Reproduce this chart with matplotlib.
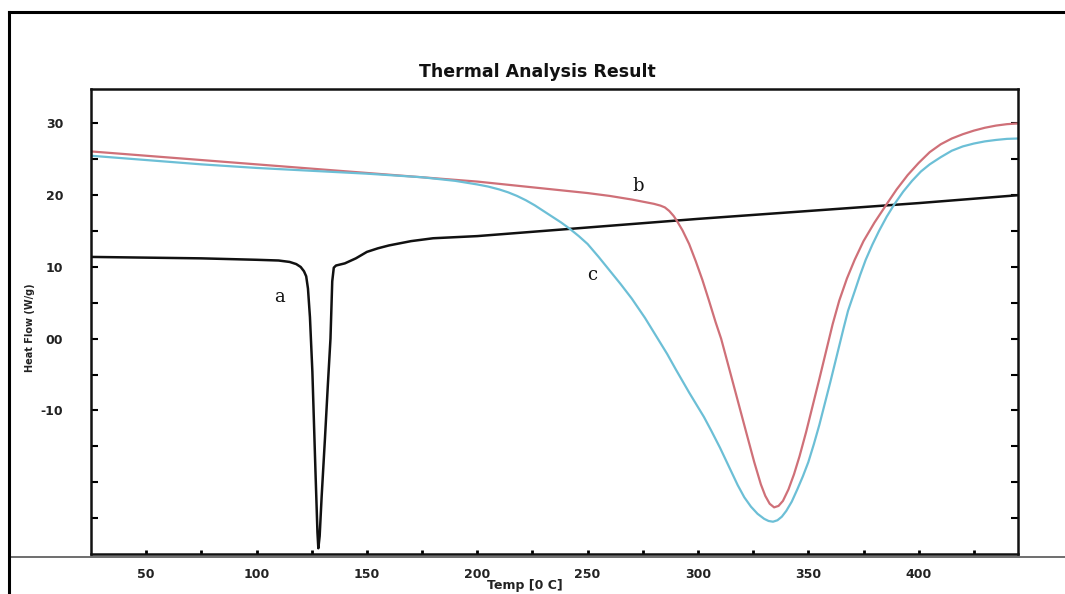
import matplotlib
matplotlib.use("Agg")
import matplotlib.pyplot as plt
from matplotlib.lines import Line2D

# ---- data ----
temp_a = [25, 50, 75, 100, 110, 115, 118, 120, 121.5, 122.5, 123.3, 124.2, 125.3, 126.7, 127.6,
          128, 128.6, 129.5, 131, 132.3, 133.5, 134.3, 135, 136, 140, 145, 150, 155, 160, 170,
          180, 200, 250, 300, 350, 400, 445]
flow_a = [11.4, 11.3, 11.2, 11.0, 10.9, 10.7, 10.4, 10.0, 9.4, 8.7, 7.0, 3.0, -4.6, -18.5, -27.0,
          -29.2, -27.5, -22.0, -13.9, -6.5, 0.0, 8.0, 9.9, 10.2, 10.5, 11.2, 12.1, 12.6, 13.0,
          13.6, 14.0, 14.3, 15.5, 16.7, 17.8, 18.9, 20.0]

temp_b = [25, 50, 75, 100, 125, 150, 175, 200, 225, 250, 260, 270, 275, 280, 283, 285, 287,
          289, 290.5, 293, 296, 299, 302, 305, 308, 310.5, 314, 318, 322, 325.5, 328.5, 330.5,
          332.5, 334.5, 336.5, 338.5, 341, 343.5, 346, 349, 352, 355, 358, 361, 364, 367.5,
          371, 375, 380, 385.5, 390, 395, 400, 405, 410, 415, 420, 425, 430, 435, 440, 445]
flow_b = [26.1, 25.5, 24.9, 24.3, 23.7, 23.1, 22.5, 21.9, 21.1, 20.3, 19.9, 19.4, 19.1, 18.8,
          18.55, 18.3, 17.8, 17.1, 16.4, 15.1, 13.2, 10.8, 8.2, 5.3, 2.3, 0.0, -4.0, -8.6, -13.2,
          -17.2, -20.3, -21.9, -23.0, -23.5, -23.3, -22.6, -21.0, -18.9, -16.4, -13.0, -9.3,
          -5.6, -1.8, 2.0, 5.3, 8.4, 11.0, 13.6, 16.2, 18.75, 20.8, 22.8, 24.5, 26.0, 27.1,
          27.9, 28.5, 29.0, 29.4, 29.7, 29.9, 30.0]

temp_c = [25, 50, 75, 100, 125, 150, 175, 190, 200, 205, 210, 214, 218, 222, 226, 230, 234,
          238, 242, 246, 250, 255, 260, 265, 270, 276, 281.8, 286, 290, 296, 302.7, 306, 310,
          314, 318, 321, 324, 327, 330, 332, 334, 336, 338, 340, 342.5, 345, 347.5, 350,
          352.5, 355, 357.5, 360, 362, 364, 366, 368, 371, 373.5, 376, 379, 382, 385.5, 389,
          393, 397, 401, 405, 410, 415, 420, 425, 430, 435, 440, 445]
flow_c = [25.5, 24.9, 24.3, 23.8, 23.4, 23.0, 22.5, 22.0, 21.5, 21.2, 20.8, 20.4, 19.9, 19.3,
          18.6, 17.8, 17.0, 16.2, 15.3, 14.3, 13.2, 11.4, 9.5, 7.6, 5.6, 2.9, 0.0, -2.1, -4.3,
          -7.5, -10.9, -12.8, -15.2, -17.8, -20.4, -22.1, -23.4, -24.4, -25.1, -25.4, -25.5,
          -25.3, -24.8, -24.0, -22.7, -21.0, -19.2, -17.2, -14.7, -12.0, -9.0, -6.0, -3.5,
          -1.0, 1.5, 3.9, 6.6, 8.9, 11.0, 13.1, 15.0, 17.0, 18.75, 20.5, 22.0, 23.3, 24.3,
          25.3, 26.2, 26.8, 27.2, 27.5, 27.7, 27.85, 27.9]

curve_labels = ["a", "b", "c"]
label_pos_t = [110.5, 272.7, 252.3]
label_pos_v = [5.8, 21.3, 8.9]

yticks_major = [-25, -20, -15, -10, -5, 0, 5, 10, 15, 20, 25, 30]
ytick_labels = {30: "30", 20: "20", 10: "10", 0: "00", -10: "-10"}
xticks_major = [50, 75, 100, 125, 150, 175, 200, 225, 250, 275, 300, 325, 350, 375, 400, 425]
xtick_labels = {50: "50", 100: "100", 150: "150", 200: "200", 250: "250",
                300: "300", 350: "350", 400: "400"}

# ---- figure ----
W, H = 1065, 594
fig = plt.figure(figsize=(W / 100, H / 100), dpi=100)
fig.patch.set_facecolor("white")

ax_l, ax_r, ax_t, ax_b = 91, 1018, 89, 554
ax = fig.add_axes([ax_l / W, 1 - ax_b / H, (ax_r - ax_l) / W, (ax_b - ax_t) / H])

ax.plot(temp_a, flow_a, color="#111111", lw=1.8, solid_joinstyle="round")
ax.plot(temp_b, flow_b, color="#cf7078", lw=1.6, solid_joinstyle="round")
ax.plot(temp_c, flow_c, color="#6cbfd6", lw=1.6, solid_joinstyle="round")

for lab, t, v in zip(curve_labels, label_pos_t, label_pos_v):
    ax.text(t, v, lab, family="DejaVu Serif", fontsize=13, ha="center", va="center",
            color="#111111")

ax.set_xlim(25, 445)
ax.set_ylim(-30, 34.8)

ax.set_yticks(yticks_major)
ax.set_yticklabels([ytick_labels.get(v, "") for v in yticks_major])
ax.set_xticks(xticks_major)
ax.set_xticklabels([xtick_labels.get(v, "") for v in xticks_major])

ax.tick_params(axis="y", direction="in", length=5, width=1.5, left=True, right=True,
               labelsize=9, pad=20)
ax.tick_params(axis="x", direction="in", length=3, width=2, bottom=True, top=False,
               labelsize=9, pad=10)
for lab in ax.get_xticklabels() + ax.get_yticklabels():
    lab.set_fontweight("bold")
    lab.set_color("#222222")

for s in ax.spines.values():
    s.set_linewidth(1.8)
    s.set_color("#111111")

fig.text(537 / W, 1 - 72 / H, "Thermal Analysis Result", ha="center", va="center",
         fontsize=12.5, fontweight="bold", color="#111111")
fig.text(525 / W, 1 - 585 / H, "Temp [0 C]", ha="center", va="center",
         fontsize=9, fontweight="bold", color="#222222")
fig.text(30 / W, 1 - 328 / H, "Heat Flow (W/g)", ha="center", va="center",
         rotation=90, fontsize=7, fontweight="bold", color="#222222")

# outer frame lines
fig.add_artist(Line2D([9 / W, 9 / W], [0, 1 - 12 / H], color="black", lw=2.2,
                      transform=fig.transFigure))
fig.add_artist(Line2D([9 / W, 1], [1 - 12 / H, 1 - 12 / H], color="black", lw=2.2,
                      transform=fig.transFigure))
fig.add_artist(Line2D([9 / W, 1], [1 - 557 / H, 1 - 557 / H], color="#555555", lw=1.2,
                      transform=fig.transFigure, zorder=0))

fig.savefig("out.png", dpi=100)
